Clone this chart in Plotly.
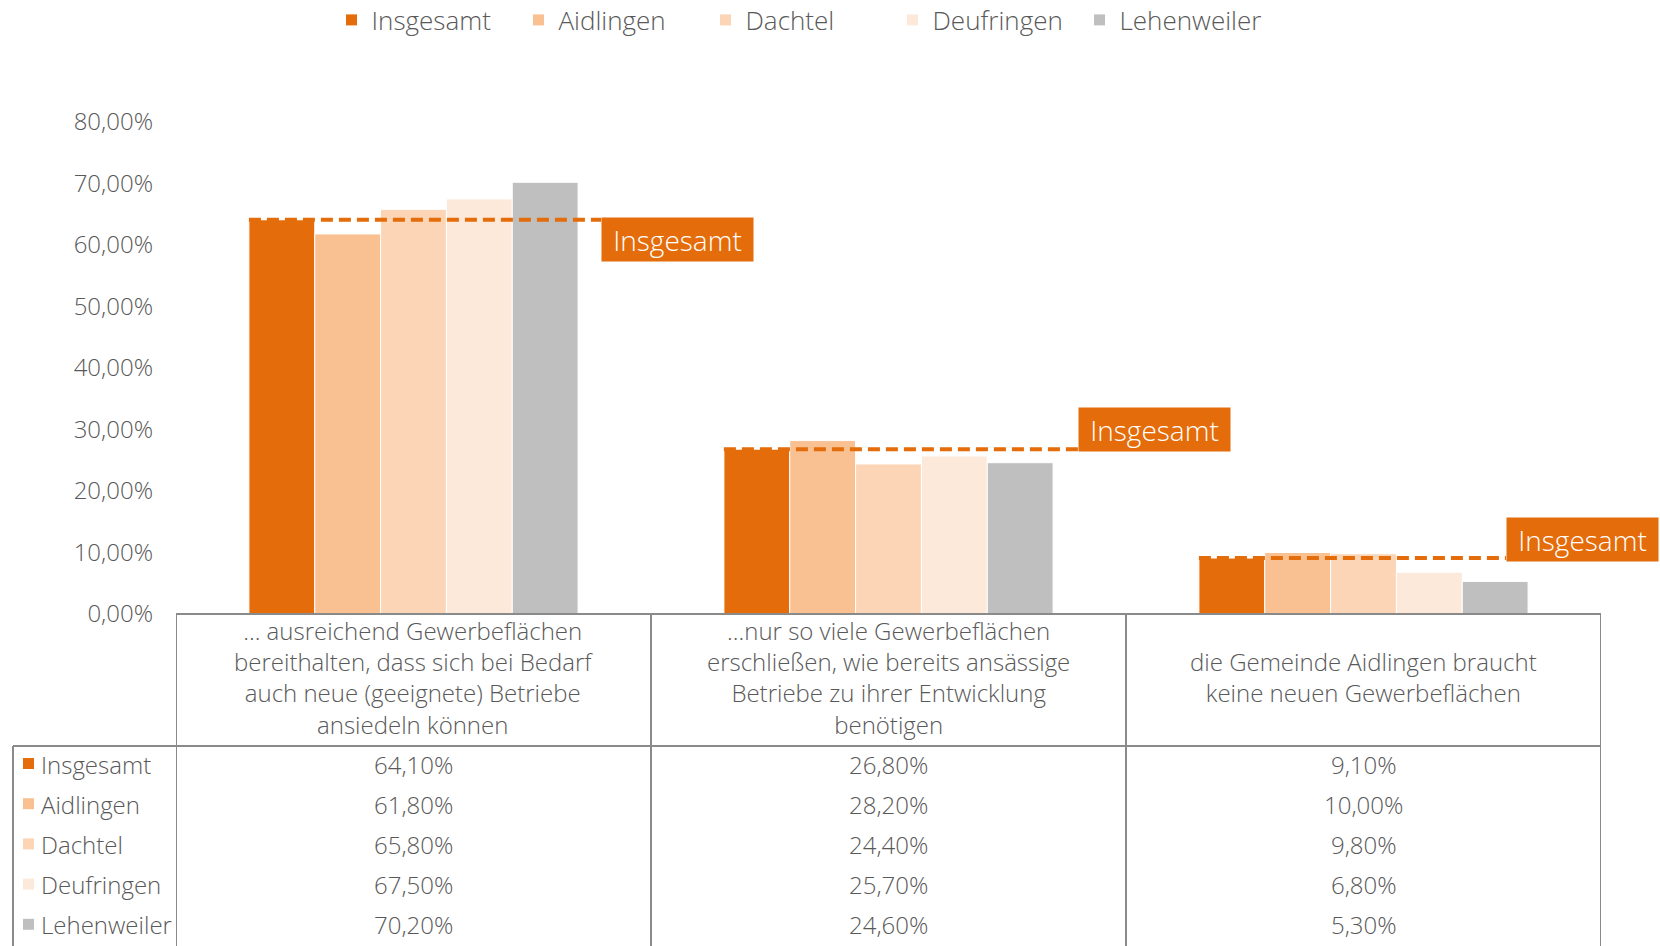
import plotly.graph_objects as go

# ---------------- data ----------------
categories = [
    "... ausreichend Gewerbeflächen\nbereithalten, dass sich bei Bedarf\nauch neue (geeignete) Betriebe\nansiedeln können",
    "...nur so viele Gewerbeflächen\nerschließen, wie bereits ansässige\nBetriebe zu ihrer Entwicklung\nbenötigen",
    "die Gemeinde Aidlingen braucht\nkeine neuen Gewerbeflächen",
]
series_names = ["Insgesamt", "Aidlingen", "Dachtel", "Deufringen", "Lehenweiler"]
insgesamt = [0.641, 0.268, 0.091]
aidlingen = [0.618, 0.282, 0.100]
dachtel = [0.658, 0.244, 0.098]
deufringen = [0.675, 0.257, 0.068]
lehenweiler = [0.702, 0.246, 0.053]
series_values = [insgesamt, aidlingen, dachtel, deufringen, lehenweiler]
y_ticks = [0, 0.1, 0.2, 0.3, 0.4, 0.5, 0.6, 0.7, 0.8]
reference_label = "Insgesamt"

# ---------------- style ----------------
colors = ["#E46C0A", "#F9C191", "#FBD5B5", "#FDE9D9", "#BFBFBF"]
TEXT = "#595959"
GRID = "#8A8A8A"
FONT = "Open Sans"
WEIGHT = 300
W, H = 1660, 946
L, R, T, B = 176, 1601, 122, 614
BARGAP = 0.307

def px_x(p):
    return (p - L) / (R - L)

def px_y(p):
    return (B - p) / (B - T)

def fmt(v):
    return f"{v * 100:.2f}".replace(".", ",") + "%"

def f(size, color=TEXT):
    return dict(family=FONT, size=size, color=color, weight=WEIGHT)

xs = list(range(len(categories)))
fig = go.Figure()
for name, vals, col in zip(series_names, series_values, colors):
    fig.add_trace(go.Bar(
        x=xs, y=vals, name=name,
        marker=dict(color=col, line=dict(color="white", width=1)),
        hoverinfo="name+y",
    ))

# dashed reference lines (Insgesamt level) + label boxes
label_offsets = [0.395, 0.399, 0.30]
label_anchor = ["top", "bottom", "bottom"]
label_shift = [3, -3, -4]
lx, ly = [], []
half = (1 - BARGAP) / 2
for i, v in enumerate(insgesamt):
    lx += [i - half, i + label_offsets[i], None]
    ly += [v, v, None]
fig.add_trace(go.Scatter(
    x=lx, y=ly, mode="lines", showlegend=False, hoverinfo="skip",
    line=dict(color=colors[0], width=4, dash="12px,6px"),
))

annotations = []
for i, v in enumerate(insgesamt):
    annotations.append(dict(
        x=i + label_offsets[i], y=v, xref="x", yref="y",
        xanchor="left", yanchor=label_anchor[i], yshift=label_shift[i],
        text=reference_label, showarrow=False,
        bgcolor=colors[0], width=151, height=43, borderpad=0,
        font=f(28, "white"),
    ))

# ---------------- data table below the chart ----------------
shapes = []
line = dict(color=GRID, width=2)
head_bottom = 746
bottom = 950
shapes.append(dict(type="line", xref="x", yref="paper", x0=-0.5, x1=2.5,
                   y0=0, y1=0, line=line))
shapes.append(dict(type="line", xref="paper", yref="paper", x0=px_x(13), x1=1,
                   y0=px_y(head_bottom), y1=px_y(head_bottom), line=line))
for k in range(len(categories) + 1):
    shapes.append(dict(type="line", xref="x", yref="paper", x0=k - 0.5, x1=k - 0.5,
                       y0=0, y1=px_y(bottom), line=line))
shapes.append(dict(type="line", xref="paper", yref="paper", x0=px_x(13), x1=px_x(13),
                   y0=px_y(head_bottom), y1=px_y(bottom), line=line))

for i, cat in enumerate(categories):
    annotations.append(dict(
        x=i, y=px_y((B + head_bottom) / 2 - 3), xref="x", yref="paper",
        text=cat.replace("\n", "<br>"), showarrow=False, align="center",
        xanchor="center", yanchor="middle", font=f(24),
    ))

row_h = 40.2
row0 = 764
for r, (name, vals, col) in enumerate(zip(series_names, series_values, colors)):
    yc = row0 + r * row_h
    shapes.append(dict(type="rect", xref="paper", yref="paper",
                       x0=px_x(23), x1=px_x(34), y0=px_y(yc - 6), y1=px_y(yc + 5),
                       fillcolor=col, line=dict(width=0)))
    annotations.append(dict(
        x=px_x(39), y=px_y(yc), xref="paper", yref="paper",
        text=name, showarrow=False, xanchor="left", yanchor="middle", font=f(24),
    ))
    for i, v in enumerate(vals):
        annotations.append(dict(
            x=i, y=px_y(yc), xref="x", yref="paper",
            text=fmt(v), showarrow=False, xanchor="center", yanchor="middle", font=f(24),
        ))

fig.update_layout(
    width=W, height=H,
    margin=dict(l=L, r=W - R, t=T, b=H - B, pad=0, autoexpand=False),
    paper_bgcolor="white", plot_bgcolor="white",
    barmode="group", bargap=BARGAP, bargroupgap=0,
    separators=",.",
    font=dict(family=FONT, color=TEXT),
    showlegend=True,
    legend=dict(orientation="h", xref="container", x=331.5 / W, xanchor="left",
                yref="container", y=1 - 20 / H, yanchor="middle",
                entrywidth=142, entrywidthmode="pixels",
                font=f(26), traceorder="normal", bgcolor="rgba(0,0,0,0)"),
    xaxis=dict(range=[-0.5, 2.5], showticklabels=False, showgrid=False, zeroline=False,
               showline=False, ticks="", fixedrange=True),
    yaxis=dict(range=[0, 0.8], tickvals=y_ticks, tickformat=".2%", showgrid=False,
               zeroline=False, showline=False, ticks="", ticklabelstandoff=22,
               tickfont=f(24), fixedrange=True),
    shapes=shapes, annotations=annotations,
)

fig.write_html("out.html", config={"displayModeBar": False},
               post_script="document.body.style.margin='0px';")
